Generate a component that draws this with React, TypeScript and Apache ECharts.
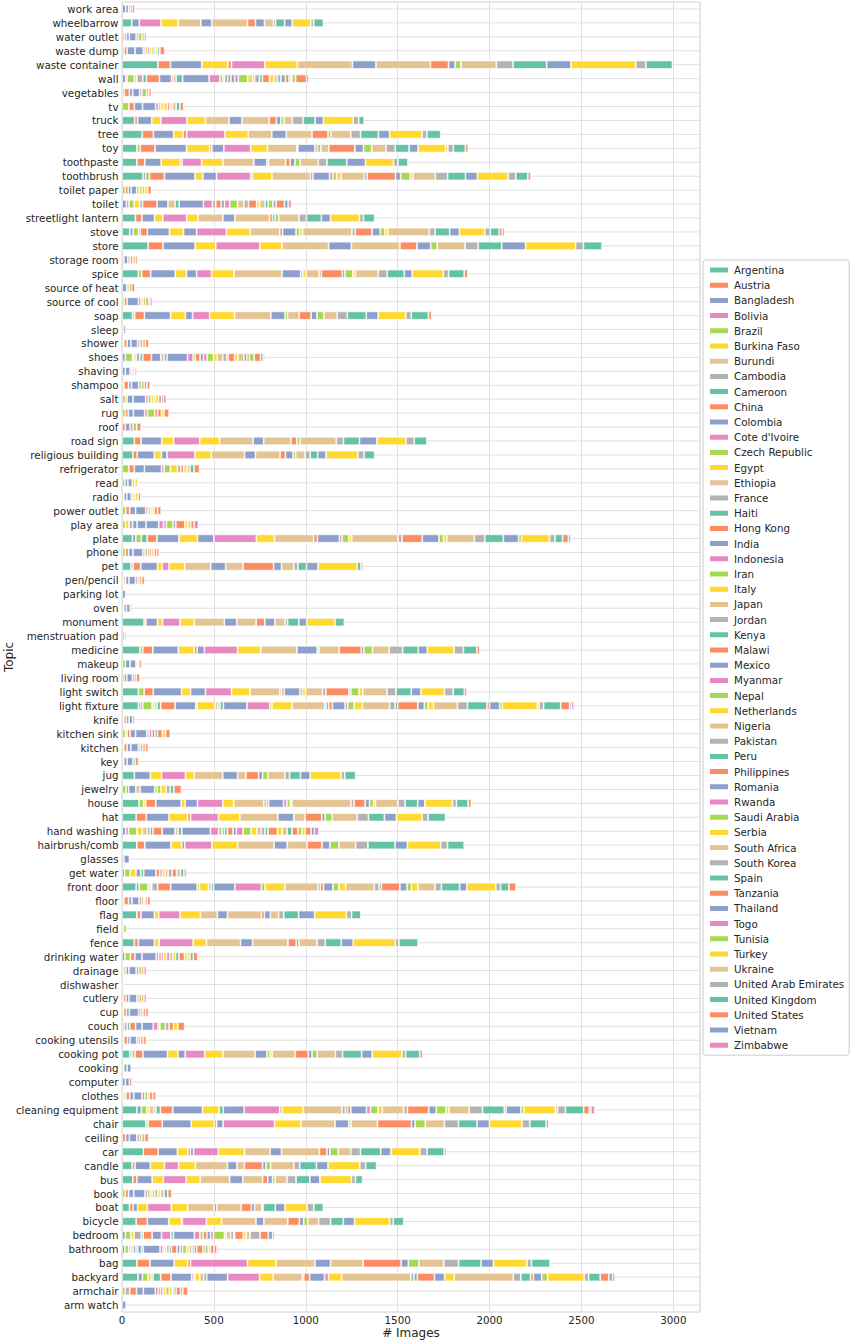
import React, { useEffect, useRef } from "react";
import * as echarts from "echarts";

const countries = [
  "Argentina", "Austria", "Bangladesh", "Bolivia", "Brazil", "Burkina Faso", "Burundi", "Cambodia",
  "Cameroon", "China", "Colombia", "Cote d'Ivoire", "Czech Republic", "Egypt", "Ethiopia", "France",
  "Haiti", "Hong Kong", "India", "Indonesia", "Iran", "Italy", "Japan", "Jordan",
  "Kenya", "Malawi", "Mexico", "Myanmar", "Nepal", "Netherlands", "Nigeria", "Pakistan",
  "Peru", "Philippines", "Romania", "Rwanda", "Saudi Arabia", "Serbia", "South Africa", "South Korea",
  "Spain", "Tanzania", "Thailand", "Togo", "Tunisia", "Turkey", "Ukraine", "United Arab Emirates",
  "United Kingdom", "United States", "Vietnam", "Zimbabwe",
];

const palette = ["#66c2a5", "#fc8d62", "#8da0cb", "#e78ac3", "#a6d854", "#ffd92f", "#e5c494", "#b3b3b3"];

// bottom -> top
const topics = [
  "arm watch", "armchair", "backyard", "bag", "bathroom", "bedroom", "bicycle", "boat", "book", "bus",
  "candle", "car", "ceiling", "chair", "cleaning equipment", "clothes", "computer", "cooking", "cooking pot",
  "cooking utensils", "couch", "cup", "cutlery", "dishwasher", "drainage", "drinking water", "fence", "field",
  "flag", "floor", "front door", "get water", "glasses", "hairbrush/comb", "hand washing", "hat", "house",
  "jewelry", "jug", "key", "kitchen", "kitchen sink", "knife", "light fixture", "light switch", "living room",
  "makeup", "medicine", "menstruation pad", "monument", "oven", "parking lot", "pen/pencil", "pet", "phone",
  "plate", "play area", "power outlet", "radio", "read", "refrigerator", "religious building", "road sign",
  "roof", "rug", "salt", "shampoo", "shaving", "shoes", "shower", "sleep", "soap", "source of cool",
  "source of heat", "spice", "storage room", "store", "stove", "streetlight lantern", "toilet", "toilet paper",
  "toothbrush", "toothpaste", "toy", "tree", "truck", "tv", "vegetables", "wall", "waste container",
  "waste dump", "water outlet", "wheelbarrow", "work area",
];

// [country index, # images] per topic
const countsByTopic: Record<string, [number, number][]> = {
  "arm watch": [[10, 22]],
  "armchair": [[4, 18], [7, 24], [9, 37], [10, 37], [18, 65], [19, 16], [25, 12], [27, 14], [29, 16], [36, 18], [37, 16], [39, 10], [40, 12], [41, 24], [48, 12], [49, 28]],
  "backyard": [[0, 87], [2, 24], [4, 30], [5, 18], [7, 10], [8, 41], [9, 57], [10, 112], [11, 10], [12, 8], [13, 26], [14, 22], [16, 16], [18, 114], [19, 173], [21, 75], [22, 158], [23, 8], [25, 32], [26, 81], [27, 22], [29, 71], [30, 376], [31, 18], [32, 18], [33, 93], [34, 55], [37, 53], [38, 321], [39, 41], [40, 53], [41, 16], [42, 45], [44, 32], [45, 199], [47, 24], [48, 63], [49, 47], [50, 20], [51, 14]],
  "bag": [[0, 81], [1, 71], [2, 132], [5, 73], [9, 16], [11, 310], [13, 154], [14, 213], [18, 85], [22, 177], [25, 207], [26, 39], [28, 57], [30, 136], [31, 81], [32, 122], [34, 67], [37, 183], [39, 24], [40, 101]],
  "bathroom": [[2, 16], [4, 20], [5, 12], [6, 12], [7, 16], [8, 10], [10, 20], [16, 10], [18, 91], [19, 16], [20, 10], [21, 10], [23, 14], [24, 12], [25, 30], [26, 16], [27, 14], [28, 22], [29, 14], [30, 16], [31, 12], [32, 14], [33, 34], [34, 12], [36, 16], [37, 12], [41, 20], [43, 16], [51, 8]],
  "bedroom": [[2, 18], [4, 30], [5, 18], [7, 39], [8, 10], [9, 49], [10, 51], [11, 51], [16, 14], [18, 114], [19, 30], [20, 18], [25, 20], [26, 20], [27, 16], [28, 59], [29, 10], [30, 24], [31, 18], [32, 4], [33, 47], [37, 16], [38, 20], [39, 55], [41, 45], [42, 24], [43, 12]],
  "bicycle": [[0, 77], [1, 61], [2, 116], [5, 69], [10, 6], [11, 130], [13, 83], [14, 187], [18, 43], [22, 130], [25, 63], [26, 24], [28, 22], [30, 59], [31, 65], [32, 69], [34, 61], [37, 191], [39, 20], [40, 57]],
  "boat": [[0, 41], [1, 20], [2, 24], [5, 53], [11, 130], [13, 89], [14, 144], [18, 14], [22, 134], [25, 55], [26, 18], [30, 39], [31, 8], [32, 65], [34, 53], [37, 120], [39, 37], [40, 51]],
  "book": [[4, 18], [9, 18], [10, 28], [18, 61], [19, 14], [20, 14], [28, 10], [29, 16], [31, 16], [37, 14], [38, 20], [40, 20], [41, 22]],
  "bus": [[0, 59], [1, 22], [2, 83], [5, 61], [11, 124], [13, 77], [14, 160], [18, 71], [22, 108], [25, 28], [26, 26], [28, 14], [30, 65], [31, 49], [32, 75], [34, 55], [37, 171], [39, 22], [40, 39]],
  "candle": [[0, 55], [1, 16], [2, 83], [5, 77], [11, 77], [13, 91], [14, 175], [18, 51], [22, 41], [25, 99], [26, 18], [28, 26], [30, 126], [31, 32], [32, 91], [34, 63], [37, 173], [39, 32], [40, 59]],
  "car": [[0, 116], [1, 81], [2, 104], [5, 57], [9, 14], [10, 18], [11, 134], [13, 142], [14, 140], [18, 61], [22, 207], [25, 41], [26, 16], [28, 45], [30, 69], [31, 53], [32, 110], [34, 55], [37, 158], [39, 39], [40, 93], [41, 12]],
  "ceiling": [[9, 20], [10, 20], [18, 41], [19, 14], [20, 14], [25, 14], [33, 22]],
  "chair": [[0, 130], [4, 12], [9, 77], [10, 158], [13, 126], [17, 12], [18, 35], [19, 280], [21, 144], [22, 185], [26, 75], [28, 12], [30, 144], [33, 185], [34, 20], [36, 55], [38, 104], [39, 77], [40, 101], [42, 67], [45, 177], [47, 43], [48, 89], [49, 14]],
  "cleaning equipment": [[0, 81], [2, 24], [4, 30], [5, 14], [6, 24], [7, 12], [8, 24], [9, 67], [10, 162], [13, 91], [16, 22], [18, 114], [19, 193], [20, 14], [21, 114], [22, 211], [23, 18], [24, 12], [25, 18], [26, 85], [27, 22], [28, 41], [29, 24], [30, 116], [31, 20], [33, 116], [34, 41], [36, 53], [37, 16], [38, 110], [39, 73], [40, 118], [41, 10], [42, 81], [44, 16], [45, 171], [46, 12], [47, 43], [48, 99], [49, 30], [50, 10], [51, 20]],
  "clothes": [[4, 10], [6, 12], [9, 20], [10, 22], [18, 45], [19, 16], [20, 16], [21, 8], [25, 18], [33, 18]],
  "computer": [[10, 18], [18, 22], [25, 14]],
  "cooking": [[4, 10], [10, 18], [18, 22]],
  "cooking pot": [[0, 43], [2, 12], [4, 16], [9, 43], [10, 134], [13, 57], [18, 39], [19, 106], [21, 99], [22, 175], [26, 65], [28, 16], [29, 12], [30, 126], [33, 71], [34, 20], [36, 28], [38, 99], [39, 39], [40, 104], [42, 57], [45, 162], [47, 20], [48, 77], [49, 16]],
  "cooking utensils": [[4, 10], [9, 20], [10, 14], [18, 36], [19, 10], [20, 12], [25, 14], [33, 16]],
  "couch": [[4, 12], [7, 16], [8, 14], [9, 32], [10, 35], [18, 61], [19, 26], [20, 10], [28, 30], [31, 20], [33, 24], [37, 24], [41, 37]],
  "cup": [[4, 8], [9, 16], [10, 16], [18, 50], [19, 12], [20, 12], [25, 14], [33, 16]],
  "cutlery": [[4, 8], [9, 14], [10, 16], [18, 43], [19, 12], [20, 14], [25, 12], [33, 14]],
  "dishwasher": [[1, 8]],
  "drainage": [[4, 10], [9, 12], [10, 16], [18, 39], [19, 14], [20, 16], [25, 12], [33, 14]],
  "drinking water": [[2, 16], [4, 30], [9, 24], [10, 39], [18, 77], [19, 14], [25, 14], [27, 12], [29, 16], [35, 18], [36, 16], [37, 16], [40, 18], [41, 30], [45, 16], [46, 14], [48, 18], [49, 24]],
  "fence": [[0, 67], [1, 22], [2, 87], [5, 26], [11, 185], [13, 73], [14, 185], [18, 65], [22, 193], [25, 45], [26, 14], [30, 99], [31, 45], [32, 87], [34, 65], [37, 229], [39, 20], [40, 104]],
  "field": [[1, 8], [4, 16]],
  "flag": [[0, 81], [1, 22], [2, 73], [5, 24], [11, 116], [13, 110], [14, 93], [18, 55], [22, 185], [25, 16], [26, 32], [30, 45], [31, 28], [32, 81], [34, 87], [37, 173], [39, 28], [40, 51]],
  "floor": [[4, 10], [9, 26], [10, 18], [18, 39], [19, 14], [20, 12], [21, 6], [25, 12], [33, 18]],
  "front door": [[0, 77], [2, 16], [4, 49], [5, 12], [6, 8], [7, 32], [9, 71], [10, 144], [12, 12], [13, 49], [14, 16], [16, 12], [18, 116], [19, 144], [20, 20], [21, 108], [22, 181], [24, 12], [25, 18], [26, 51], [28, 32], [29, 37], [30, 156], [31, 26], [32, 12], [33, 101], [34, 39], [36, 24], [37, 35], [38, 93], [39, 35], [40, 99], [42, 39], [45, 158], [47, 26], [48, 45], [49, 39]],
  "get water": [[2, 14], [4, 30], [5, 32], [10, 26], [16, 16], [18, 67], [25, 20], [27, 14], [29, 16], [30, 16], [31, 22], [33, 24], [38, 22], [40, 18], [43, 14]],
  "glasses": [[10, 10], [18, 30]],
  "hairbrush/comb": [[0, 81], [1, 43], [2, 142], [5, 59], [10, 16], [11, 148], [13, 140], [14, 199], [18, 71], [22, 108], [25, 81], [26, 43], [28, 49], [30, 91], [31, 67], [32, 148], [34, 67], [37, 181], [39, 37], [40, 91]],
  "hand washing": [[2, 20], [3, 16], [4, 45], [5, 30], [6, 26], [7, 16], [8, 16], [9, 49], [10, 71], [14, 16], [16, 20], [18, 156], [19, 45], [20, 18], [23, 14], [24, 16], [25, 30], [26, 18], [27, 37], [28, 43], [29, 32], [30, 24], [31, 20], [32, 16], [33, 51], [37, 26], [38, 28], [40, 26], [41, 32], [44, 22], [45, 18], [49, 32], [50, 18], [51, 24]],
  "hat": [[0, 77], [1, 55], [2, 124], [5, 101], [9, 16], [11, 152], [13, 116], [14, 207], [18, 87], [22, 61], [25, 91], [26, 18], [28, 39], [30, 136], [31, 61], [32, 87], [34, 65], [37, 140], [39, 32], [40, 95]],
  "house": [[0, 93], [4, 24], [5, 12], [9, 55], [10, 138], [13, 22], [18, 67], [19, 138], [21, 59], [22, 164], [23, 14], [25, 12], [26, 81], [27, 18], [28, 18], [29, 10], [30, 321], [31, 16], [33, 61], [34, 24], [36, 22], [37, 10], [38, 122], [39, 39], [40, 69], [42, 39], [45, 150], [47, 22], [48, 63], [49, 18]],
  "jewelry": [[4, 22], [8, 14], [10, 39], [14, 24], [18, 79], [20, 14], [28, 20], [29, 28], [31, 22], [32, 20], [33, 41]],
  "jug": [[0, 67], [2, 87], [5, 61], [11, 130], [13, 49], [14, 154], [18, 81], [22, 45], [25, 69], [26, 22], [28, 28], [30, 93], [31, 26], [32, 59], [34, 53], [37, 168], [39, 20], [40, 59]],
  "key": [[4, 10], [10, 18], [18, 32], [24, 12], [25, 18]],
  "kitchen": [[4, 10], [9, 18], [10, 20], [18, 41], [19, 10], [20, 14], [25, 14], [33, 16]],
  "kitchen sink": [[4, 18], [5, 10], [9, 16], [10, 30], [18, 61], [19, 12], [27, 16], [33, 16], [40, 14], [41, 26], [45, 18], [49, 26]],
  "knife": [[4, 10], [9, 14], [10, 14], [18, 20], [25, 12]],
  "light fixture": [[0, 89], [1, 12], [2, 12], [4, 51], [5, 12], [6, 14], [8, 20], [9, 79], [10, 112], [12, 8], [13, 97], [14, 16], [15, 12], [16, 18], [18, 128], [19, 124], [20, 12], [21, 110], [22, 177], [23, 8], [24, 14], [25, 20], [26, 69], [27, 14], [28, 35], [29, 45], [30, 148], [31, 30], [32, 14], [33, 110], [34, 35], [36, 20], [37, 30], [38, 130], [39, 55], [40, 106], [41, 14], [42, 55], [44, 14], [45, 191], [46, 10], [47, 24], [48, 93], [49, 49], [50, 10], [51, 14]],
  "light switch": [[0, 89], [4, 32], [9, 49], [10, 154], [13, 49], [18, 81], [19, 142], [21, 101], [22, 162], [23, 10], [25, 14], [26, 85], [28, 14], [29, 16], [30, 93], [31, 18], [33, 126], [34, 10], [36, 45], [37, 20], [38, 132], [39, 49], [40, 83], [42, 53], [45, 128], [47, 47], [48, 61], [49, 14]],
  "living room": [[1, 12], [2, 14], [10, 30], [11, 12], [17, 10], [25, 20]],
  "makeup": [[4, 18], [10, 26], [18, 32], [25, 6], [29, 10], [33, 14]],
  "medicine": [[0, 97], [4, 16], [9, 55], [10, 138], [13, 87], [17, 16], [18, 39], [19, 181], [21, 126], [22, 197], [26, 110], [28, 10], [30, 110], [33, 120], [34, 14], [36, 47], [38, 91], [39, 73], [40, 85], [42, 49], [45, 146], [47, 51], [48, 73], [49, 16]],
  "menstruation pad": [[10, 12], [18, 10]],
  "monument": [[0, 120], [1, 10], [2, 63], [5, 28], [11, 95], [13, 77], [14, 164], [18, 67], [22, 106], [25, 47], [26, 55], [30, 55], [31, 14], [32, 61], [34, 43], [37, 154], [40, 51]],
  "oven": [[4, 10], [10, 14], [18, 20], [25, 10]],
  "parking lot": [[18, 20]],
  "pen/pencil": [[4, 10], [9, 10], [10, 18], [18, 35], [19, 12], [20, 10], [25, 12], [33, 16]],
  "pet": [[0, 49], [7, 12], [9, 41], [10, 91], [13, 26], [19, 37], [21, 85], [22, 142], [26, 81], [30, 95], [33, 166], [34, 43], [38, 67], [39, 22], [40, 47], [42, 63], [45, 213], [48, 20], [49, 12]],
  "phone": [[4, 18], [9, 18], [10, 24], [18, 53], [19, 12], [20, 14], [27, 10], [33, 12], [37, 14], [41, 14], [49, 14]],
  "plate": [[0, 57], [2, 18], [4, 30], [8, 32], [9, 53], [10, 120], [13, 101], [18, 89], [19, 231], [21, 99], [22, 213], [25, 20], [26, 120], [27, 14], [28, 37], [29, 16], [30, 252], [31, 22], [33, 110], [34, 91], [36, 24], [37, 18], [38, 150], [39, 57], [40, 101], [42, 83], [44, 16], [45, 152], [47, 30], [48, 41], [49, 32], [50, 12]],
  "play area": [[4, 18], [5, 20], [7, 20], [10, 24], [18, 49], [26, 69], [27, 26], [31, 16], [36, 35], [39, 16], [41, 49], [45, 16], [46, 16], [49, 18], [51, 24]],
  "power outlet": [[4, 20], [9, 22], [10, 32], [18, 55], [19, 12], [21, 14], [24, 8], [29, 12], [33, 18], [41, 20]],
  "radio": [[4, 10], [10, 16], [18, 24], [19, 10], [21, 12], [29, 16], [33, 14], [35, 6]],
  "read": [[4, 16], [10, 16], [18, 24], [21, 14], [29, 16]],
  "refrigerator": [[4, 37], [9, 30], [10, 55], [18, 93], [19, 14], [20, 34], [29, 39], [31, 18], [33, 16], [37, 18], [38, 16], [40, 22], [41, 30]],
  "religious building": [[0, 59], [1, 24], [2, 93], [5, 39], [10, 30], [11, 152], [13, 89], [14, 181], [18, 59], [22, 134], [25, 30], [26, 41], [28, 14], [30, 51], [31, 28], [32, 41], [34, 45], [37, 173], [39, 35], [40, 57]],
  "road sign": [[0, 67], [1, 37], [2, 112], [5, 65], [11, 142], [13, 108], [14, 183], [18, 57], [22, 148], [25, 32], [28, 18], [30, 197], [31, 39], [32, 87], [34, 95], [37, 158], [39, 45], [40, 69]],
  "roof": [[1, 18], [2, 26], [3, 16], [4, 20], [9, 24]],
  "rug": [[4, 18], [9, 16], [10, 28], [18, 61], [19, 16], [28, 39], [33, 16], [41, 20], [45, 14], [49, 28]],
  "salt": [[4, 18], [9, 10], [10, 32], [18, 69], [19, 14], [20, 16], [21, 14], [24, 8], [29, 18], [35, 16], [40, 10], [41, 16]],
  "shampoo": [[4, 10], [9, 26], [10, 16], [18, 39], [19, 14], [20, 16], [25, 14], [33, 18]],
  "shaving": [[2, 18], [10, 26], [11, 10], [19, 6], [25, 10], [33, 10]],
  "shoes": [[2, 18], [4, 39], [5, 8], [6, 12], [7, 20], [8, 16], [9, 47], [10, 51], [14, 18], [16, 16], [18, 112], [19, 30], [20, 12], [25, 26], [26, 18], [27, 20], [28, 35], [29, 20], [30, 30], [31, 22], [32, 8], [33, 35], [37, 18], [38, 32], [40, 16], [41, 14], [44, 26], [49, 35], [50, 14], [51, 10]],
  "shower": [[4, 10], [9, 18], [10, 20], [18, 37], [19, 12], [20, 16], [25, 14], [33, 18]],
  "sleep": [[4, 8], [10, 12]],
  "soap": [[0, 57], [4, 12], [9, 53], [10, 142], [13, 81], [18, 39], [19, 93], [21, 136], [22, 197], [26, 77], [28, 14], [30, 63], [33, 65], [34, 32], [36, 37], [38, 73], [39, 55], [40, 103], [42, 65], [45, 150], [47, 30], [48, 93], [49, 18]],
  "source of cool": [[4, 12], [9, 16], [10, 61], [11, 14], [13, 12], [20, 14], [25, 16], [27, 8], [33, 12]],
  "source of heat": [[2, 26], [5, 14], [10, 12], [17, 18]],
  "spice": [[0, 89], [4, 18], [9, 49], [10, 134], [13, 61], [18, 55], [19, 81], [21, 122], [22, 262], [26, 101], [28, 12], [29, 18], [30, 71], [31, 12], [33, 114], [34, 14], [36, 43], [37, 14], [38, 124], [39, 49], [40, 93], [42, 43], [45, 170], [47, 28], [48, 85], [49, 20]],
  "storage room": [[1, 10], [2, 22], [3, 12], [4, 16], [9, 12], [17, 12]],
  "store": [[0, 142], [1, 81], [2, 175], [5, 112], [11, 240], [13, 120], [14, 254], [18, 124], [22, 264], [25, 93], [26, 75], [28, 35], [30, 152], [31, 71], [32, 128], [34, 130], [37, 272], [39, 43], [40, 101]],
  "stove": [[0, 43], [2, 18], [4, 28], [8, 10], [9, 39], [10, 120], [13, 77], [18, 71], [19, 162], [21, 130], [22, 160], [25, 16], [26, 73], [28, 20], [29, 16], [30, 268], [31, 18], [33, 91], [34, 45], [36, 26], [37, 16], [38, 225], [39, 32], [40, 79], [42, 53], [45, 138], [47, 30], [48, 49], [49, 16], [50, 12]],
  "streetlight lantern": [[0, 73], [1, 35], [2, 69], [5, 45], [11, 130], [13, 61], [14, 136], [18, 65], [22, 189], [25, 16], [26, 14], [28, 20], [30, 110], [31, 41], [32, 81], [34, 49], [37, 158], [39, 22], [40, 61]],
  "toilet": [[2, 24], [3, 14], [4, 28], [5, 30], [7, 16], [9, 79], [10, 59], [14, 39], [16, 22], [18, 132], [19, 49], [23, 18], [25, 30], [26, 18], [27, 28], [28, 43], [30, 35], [31, 24], [33, 45], [37, 16], [38, 30], [40, 16], [44, 26], [47, 18], [49, 45], [50, 20], [51, 18]],
  "toilet paper": [[4, 18], [9, 16], [10, 16], [18, 30], [20, 14], [21, 18], [25, 12], [29, 16], [33, 20]],
  "toothbrush": [[0, 114], [2, 14], [4, 22], [9, 81], [10, 166], [13, 43], [18, 75], [19, 185], [20, 10], [21, 106], [22, 209], [25, 14], [26, 91], [27, 18], [28, 20], [29, 24], [30, 126], [31, 16], [33, 154], [34, 28], [36, 53], [37, 14], [38, 122], [39, 67], [40, 97], [42, 65], [45, 168], [47, 41], [48, 65], [49, 16]],
  "toothpaste": [[0, 81], [1, 43], [2, 89], [5, 104], [9, 10], [11, 106], [13, 116], [14, 168], [18, 71], [21, 10], [22, 93], [25, 24], [26, 26], [28, 28], [30, 99], [31, 47], [32, 108], [34, 102], [37, 152], [39, 24], [40, 55]],
  "toy": [[0, 81], [4, 18], [9, 81], [10, 171], [13, 126], [17, 12], [18, 65], [19, 146], [21, 91], [22, 160], [23, 6], [26, 93], [27, 14], [28, 18], [30, 43], [33, 142], [34, 47], [36, 45], [38, 77], [39, 51], [40, 75], [42, 49], [45, 150], [46, 12], [47, 30], [48, 65], [49, 16]],
  "tree": [[0, 110], [1, 61], [2, 110], [5, 51], [9, 20], [11, 207], [13, 128], [14, 128], [18, 79], [22, 140], [25, 87], [28, 16], [30, 108], [31, 53], [32, 97], [34, 61], [37, 177], [39, 26], [40, 75]],
  "truck": [[0, 69], [1, 16], [2, 77], [5, 49], [11, 142], [13, 101], [14, 128], [18, 71], [22, 148], [25, 39], [26, 24], [28, 18], [30, 45], [31, 59], [32, 65], [34, 45], [37, 162], [39, 30], [40, 30]],
  "tv": [[4, 37], [9, 30], [10, 45], [18, 71], [19, 16], [20, 12], [21, 16], [29, 20], [35, 14], [37, 14], [38, 20], [40, 20], [41, 20]],
  "vegetables": [[4, 12], [9, 28], [10, 18], [18, 38], [19, 12], [20, 26], [25, 12], [33, 14]],
  "wall": [[2, 20], [3, 8], [4, 39], [5, 14], [7, 32], [8, 20], [9, 71], [10, 65], [11, 10], [14, 16], [16, 35], [18, 144], [19, 59], [20, 16], [22, 10], [24, 16], [25, 18], [26, 20], [27, 20], [28, 51], [29, 26], [30, 12], [31, 26], [32, 16], [33, 39], [37, 24], [38, 18], [39, 20], [40, 24], [41, 20], [42, 10], [43, 6], [44, 20], [49, 59], [50, 12]],
  "waste container": [[0, 195], [1, 69], [2, 170], [5, 142], [9, 20], [11, 181], [13, 177], [14, 300], [18, 128], [22, 296], [25, 99], [26, 35], [28, 32], [30, 193], [31, 91], [32, 183], [34, 132], [37, 353], [39, 55], [40, 144]],
  "waste dump": [[4, 12], [9, 16], [10, 43], [18, 45], [19, 10], [20, 12], [27, 12], [29, 12], [36, 12], [40, 10], [45, 10], [48, 12], [49, 26]],
  "water outlet": [[1, 12], [7, 12], [10, 16], [18, 37], [19, 12], [20, 20], [25, 12], [33, 12]],
  "wheelbarrow": [[0, 53], [2, 41], [11, 118], [13, 93], [14, 124], [18, 59], [22, 195], [25, 43], [26, 49], [30, 49], [31, 12], [32, 49], [34, 41], [37, 101], [39, 16], [40, 53]],
  "work area": [[2, 20], [10, 16], [19, 8], [25, 12], [33, 14]],
};

const xMax = 3145;
const xInterval = 500;

const FONT = "DejaVu Sans";
const TEXT = "#262626";

export default function App() {
  const ref = useRef<HTMLDivElement>(null);

  useEffect(() => {
    if (!ref.current) return;
    const chart = echarts.init(ref.current, undefined, { renderer: "svg" });

    const barSeries = countries.map((name, ci) => ({
      name,
      type: "bar",
      stack: "total",
      barWidth: "60%",
      z: 2,
      itemStyle: { color: palette[ci % palette.length], borderColor: "#ffffff", borderWidth: 0.7 },
      emphasis: { disabled: true },
      data: topics.map((t) => {
        const pair = (countsByTopic[t] || []).find((p) => p[0] === ci);
        return pair ? pair[1] : "-";
      }),
    }));

    const gridLines = {
      type: "custom",
      silent: true,
      z: 1,
      encode: { x: 0, y: 1 },
      data: topics.map((_, i) => [0, i]),
      renderItem: (params: any, api: any) => {
        const y = api.coord([0, api.value(1)])[1];
        const cs = params.coordSys;
        return {
          type: "line",
          shape: { x1: cs.x, y1: y, x2: cs.x + cs.width, y2: y },
          style: { stroke: "#e0e0e0", lineWidth: 1 },
        };
      },
    };

    chart.setOption({
      animation: false,
      backgroundColor: "#ffffff",
      textStyle: { fontFamily: FONT },
      grid: {
        left: 122,
        right: 154,
        top: 2,
        bottom: 30,
        containLabel: false,
        outerBoundsMode: "none",
        show: true,
        borderColor: "#d0d0d0",
        borderWidth: 1,
        backgroundColor: "transparent",
      },
      legend: {
        orient: "vertical",
        left: 703,
        top: 260,
        data: countries.map((name) => ({ name, icon: "rect" })),
        itemWidth: 20,
        itemHeight: 7,
        itemGap: 3.2,
        selectedMode: false,
        padding: [4, 5, 4, 5],
        borderColor: "#cccccc",
        borderWidth: 1,
        borderRadius: 3,
        backgroundColor: "#ffffff",
        textStyle: { fontFamily: FONT, fontSize: 10.3, color: TEXT, lineHeight: 12 },
      },
      xAxis: {
        type: "value",
        min: 0,
        max: xMax,
        interval: xInterval,
        name: "# Images",
        nameLocation: "middle",
        nameGap: 14,
        nameMoveOverlap: false,
        nameTextStyle: { fontFamily: FONT, fontSize: 12, color: TEXT, lineHeight: 14 },
        axisLine: { show: false },
        axisTick: { show: false },
        axisLabel: {
          fontFamily: FONT,
          fontSize: 10.3,
          color: TEXT,
          margin: 3,
          formatter: (v: number) => (v % xInterval === 0 ? String(v) : ""),
        },
        splitLine: { show: true, lineStyle: { color: "#e0e0e0", width: 1 } },
      },
      yAxis: {
        type: "category",
        data: topics,
        name: "Topic",
        nameLocation: "middle",
        nameGap: 106,
        nameMoveOverlap: false,
        nameTextStyle: { fontFamily: FONT, fontSize: 12, color: TEXT, lineHeight: 14 },
        axisLine: { show: false },
        axisTick: { show: false },
        axisLabel: { interval: 0, fontFamily: FONT, fontSize: 10.3, color: TEXT, margin: 3.5 },
        splitLine: { show: false },
      },
      series: [gridLines, ...barSeries],
    });

    return () => chart.dispose();
  }, []);

  return (
    <div
      ref={ref}
      style={{ position: "absolute", left: 0, top: 0, width: 854, height: 1342, background: "#fff" }}
    />
  );
}
